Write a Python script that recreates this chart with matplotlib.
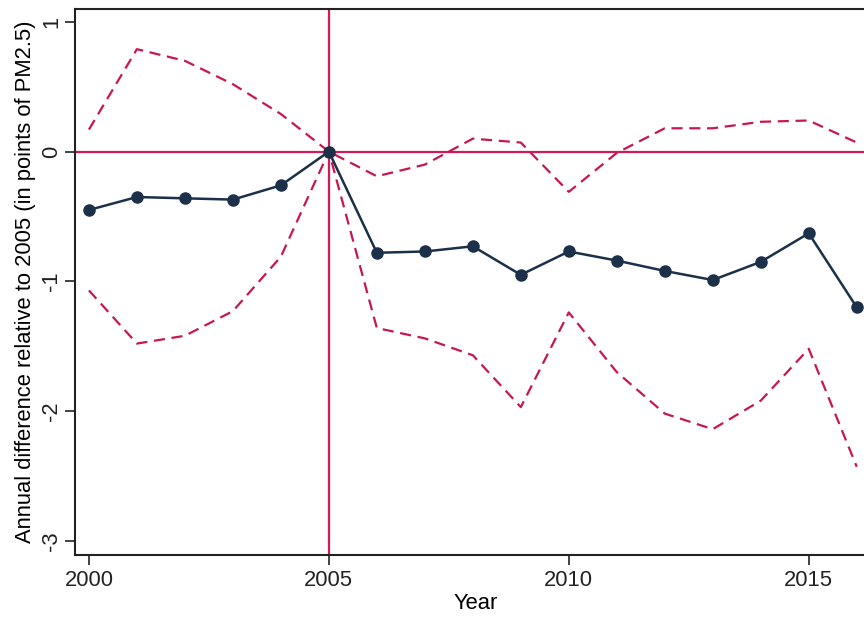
import matplotlib.pyplot as plt
import numpy as np

plt.rcParams["font.family"] = ["Liberation Sans", "DejaVu Sans"]

# event-study estimates, annual difference relative to 2005
years = np.arange(2000, 2017)
estimate = [-0.45, -0.35, -0.36, -0.37, -0.26, 0.0, -0.78, -0.77, -0.73,
            -0.95, -0.77, -0.84, -0.92, -0.99, -0.85, -0.63, -1.20]
ci_upper = [0.17, 0.79, 0.70, 0.52, 0.29, 0.0, -0.19, -0.10, 0.10,
            0.07, -0.31, -0.01, 0.18, 0.18, 0.23, 0.24, 0.07]
ci_lower = [-1.07, -1.48, -1.42, -1.23, -0.81, 0.0, -1.36, -1.44, -1.57,
            -1.97, -1.24, -1.70, -2.02, -2.14, -1.92, -1.52, -2.43]

xticks = [2000, 2005, 2010, 2015]
yticks = [-3, -2, -1, 0, 1]

navy = "#1c3049"
crimson = "#c8174f"

fig = plt.figure(figsize=(8.64, 6.18), dpi=100)
ax = fig.add_axes([0.0868, 0.102, 0.927, 0.8835])

ax.axhline(0, color="#d3195a", lw=1.6, zorder=1)
ax.axvline(2005, color="#d3195a", lw=1.6, zorder=1)

ax.plot(years, ci_upper, color=crimson, lw=1.6, ls=(0, (5, 3)), zorder=2)
ax.plot(years, ci_lower, color=crimson, lw=1.6, ls=(0, (5, 3)), zorder=2)
ax.plot(years, estimate, color=navy, lw=1.8, marker="o", ms=8,
        mfc=navy, mec=navy, zorder=3)

ax.set_xlim(1999.71, 2016.4)
ax.set_ylim(-3.11, 1.1)
ax.set_xticks(xticks)
ax.set_yticks(yticks)
ax.set_yticklabels([str(t) for t in yticks], rotation=90, va="center")
ax.tick_params(direction="out", length=7, width=1.2, labelsize=15.8,
               colors="#222222")
ax.tick_params(axis="y", pad=2)

ax.set_xlabel("Year", fontsize=15.8, labelpad=2)
ax.set_ylabel("Annual difference relative to 2005 (in points of PM2.5)",
              fontsize=15.8, labelpad=4)

for side in ["left", "bottom", "top"]:
    ax.spines[side].set_linewidth(1.5)
    ax.spines[side].set_color("#222222")
ax.spines["right"].set_visible(False)

fig.savefig("out.png", dpi=100, facecolor="white")
